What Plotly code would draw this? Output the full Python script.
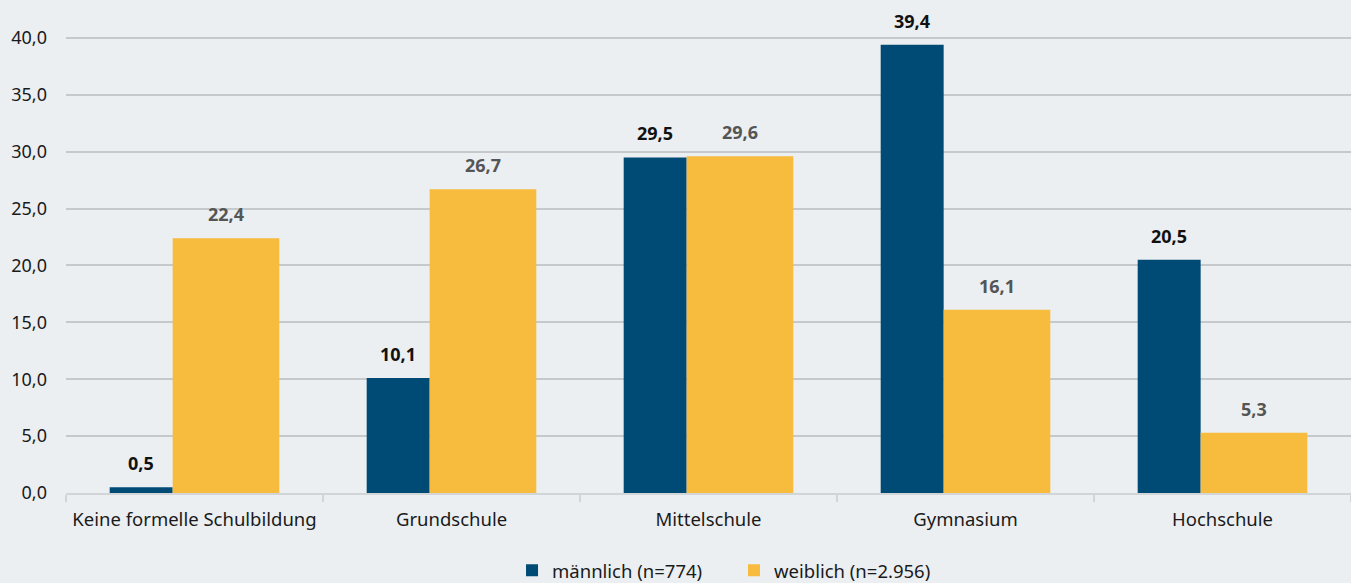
import plotly.graph_objects as go

categories = ["Keine formelle Schulbildung", "Grundschule", "Mittelschule", "Gymnasium", "Hochschule"]
maennlich = [0.5, 10.1, 29.5, 39.4, 20.5]
weiblich = [22.4, 26.7, 29.6, 16.1, 5.3]
name_m = "männlich (n=774)"
name_w = "weiblich (n=2.956)"
yticks = [0, 5, 10, 15, 20, 25, 30, 35, 40]

BLUE = "#004B76"
YELLOW = "#F7BB3D"
BG = "#EBEFF2"
FONT = "Noto Sans"

def fmt(v):
    return f"{v:.1f}".replace(".", ",")

# bar geometry in category units
w_m, off_m = 0.245, -0.33
w_w, off_w = 0.415, -0.085

fig = go.Figure()
fig.add_trace(go.Bar(x=categories, y=maennlich, name=name_m, marker_color=BLUE,
                     width=[w_m] * len(categories), offset=off_m, marker_line_width=0))
fig.add_trace(go.Bar(x=categories, y=weiblich, name=name_w, marker_color=YELLOW,
                     width=[w_w] * len(categories), offset=off_w, marker_line_width=0))

cat_px = 257
annotations = []
for c, v in zip(categories, maennlich):
    annotations.append(dict(x=c, y=v, xref="x", yref="y", text=f"<b>{fmt(v)}</b>",
                            showarrow=False, yanchor="middle", yshift=24,
                            xshift=(off_m + w_m / 2) * cat_px,
                            font=dict(family=FONT, size=18, color="#111111")))
for c, v in zip(categories, weiblich):
    annotations.append(dict(x=c, y=v, xref="x", yref="y", text=f"<b>{fmt(v)}</b>",
                            showarrow=False, yanchor="middle", yshift=24,
                            xshift=(off_w + w_w / 2) * cat_px,
                            font=dict(family=FONT, size=18, color="#555555")))

fig.update_layout(
    width=1351, height=583,
    paper_bgcolor=BG, plot_bgcolor=BG,
    margin=dict(l=66, r=0, t=10, b=90, autoexpand=False),
    barmode="overlay",
    separators=",.",
    font=dict(family=FONT, size=18, color="#1a1a1a"),
    showlegend=True,
    legend=dict(orientation="h", x=0.3471, xanchor="left", y=-0.161, yanchor="middle",
                font=dict(family=FONT, size=18.5, color="#1a1a1a"), traceorder="normal",
                itemwidth=30, entrywidth=177, entrywidthmode="pixels",
                bgcolor="rgba(0,0,0,0)"),
    annotations=annotations,
)
fig.update_xaxes(showgrid=False, showline=True, linecolor="#d2d5d8", linewidth=2,
                 ticks="outside", tickson="boundaries", ticklen=7, tickcolor="#d2d5d8",
                 tickwidth=2, ticklabelstandoff=9,
                 tickfont=dict(family=FONT, size=18.5, color="#1a1a1a"))
fig.update_yaxes(range=[0, 42.46], tickvals=yticks, tickformat=".1f", showgrid=True,
                 gridcolor="#c6c9cc", gridwidth=1.5, zeroline=False, showline=False,
                 ticks="", ticklabelstandoff=18,
                 tickfont=dict(family=FONT, size=18, color="#1a1a1a"))

fig.write_html("out.html", config={"displayModeBar": False},
               post_script="document.body.style.margin='0';")
